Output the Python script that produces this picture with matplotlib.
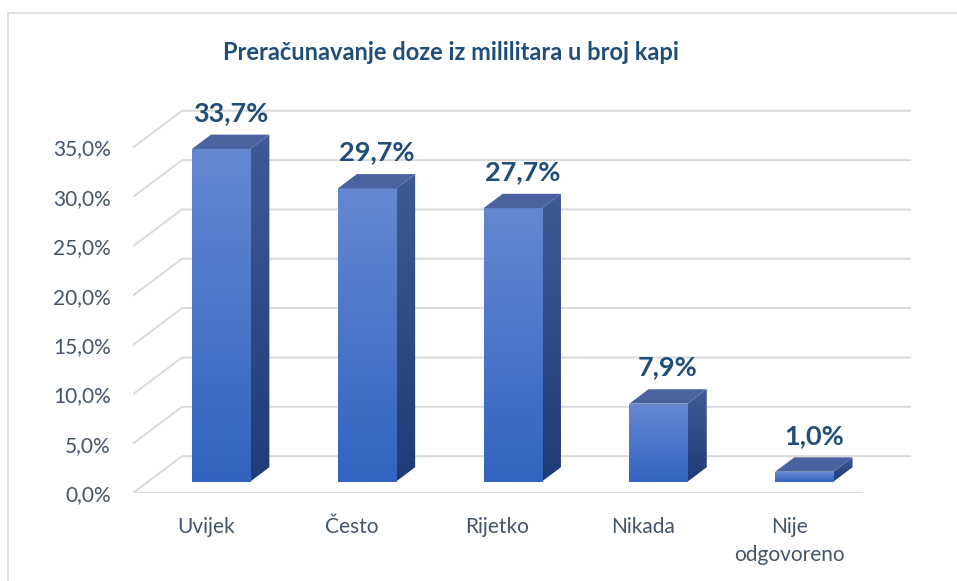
import numpy as np
import matplotlib.pyplot as plt
from matplotlib.patches import Polygon
from matplotlib.colors import LinearSegmentedColormap
from matplotlib.lines import Line2D

plt.rcParams['font.family'] = ['Lato', 'DejaVu Sans']

# podaci
categories = ['Uvijek', 'Često', 'Rijetko', 'Nikada', 'Nije\nodgovoreno']
values = [33.7, 29.7, 27.7, 7.9, 1.0]
yticks = [0, 5, 10, 15, 20, 25, 30, 35]
title = 'Preračunavanje doze iz mililitara u broj kapi'

W, H = 957, 581
fig = plt.figure(figsize=(W / 100, H / 100), dpi=100)

# kosa projekcija dubine (Excel 3D stupci)
DX = 0.336      # pomak po x za punu dubinu (jedinice kategorije)
DY = 3.73       # pomak po y za punu dubinu (%)
px_x = 145.8    # px po kategoriji
px_y = 9.87     # px po %
left_px, zero_px = 133, 493
ymax = 40

ax = fig.add_axes([left_px / W, (H - zero_px) / H,
                   (5 + DX) * px_x / W, ymax * px_y / H])
ax.set_xlim(-0.5, 4.5 + DX)
ax.set_ylim(0, ymax)
for s in ax.spines.values():
    s.set_visible(False)

grid_c = '#D9D9D9'
for v in yticks:
    ax.plot([-0.5, -0.5 + DX, 4.5 + DX], [v, v + DY, v + DY],
            color=grid_c, lw=1.4, zorder=1, solid_capstyle='butt')
ax.plot([-0.5, 4.5], [0, 0], color=grid_c, lw=1.4, zorder=1)

ax.set_yticks(yticks)
ax.set_yticklabels([f'{v:.1f}'.replace('.', ',') + '%' for v in yticks])
ax.set_xticks(range(len(categories)))
ax.set_xticklabels(categories, linespacing=1.5)
ax.tick_params(axis='y', length=0, pad=16, labelsize=15, labelcolor='#44546A')
ax.tick_params(axis='x', length=0, pad=17, labelsize=15, labelcolor='#44546A')

front_cm = LinearSegmentedColormap.from_list('front', ['#3263C0', '#6588D1'])
side_cm = LinearSegmentedColormap.from_list('side', ['#1E3C77', '#3F5B97'])
grad = np.linspace(0, 1, 256).reshape(-1, 1)

w = 0.40
dF, dB = 0.31, 0.70
ddx, ddy = (dB - dF) * DX, (dB - dF) * DY
for i, v in enumerate(values):
    xl = i - w / 2 + dF * DX
    xr = i + w / 2 + dF * DX
    yb = dF * DY
    yt = v + dF * DY
    # prednja strana
    ax.imshow(grad, cmap=front_cm, origin='lower', aspect='auto',
              extent=(xl, xr, yb, yt), zorder=3, interpolation='bilinear')
    # bočna strana
    side = Polygon([(xr, yb), (xr + ddx, yb + ddy), (xr + ddx, yt + ddy), (xr, yt)],
                   closed=True, facecolor='none', edgecolor='none')
    ax.add_patch(side)
    im = ax.imshow(grad, cmap=side_cm, origin='lower', aspect='auto',
                   extent=(xr, xr + ddx, yb, yt + ddy), zorder=2.9,
                   interpolation='bilinear')
    im.set_clip_path(side)
    # gornja strana
    ax.add_patch(Polygon([(xl, yt), (xr, yt), (xr + ddx, yt + ddy), (xl + ddx, yt + ddy)],
                         closed=True, facecolor='#4A63A0', edgecolor='none', zorder=3))
    ax.text((xl + xr) / 2 + ddx / 2, yt + ddy + 2.2,
            f'{v:.1f}'.replace('.', ',') + '%', ha='center', va='center',
            fontsize=19.5, fontweight='bold', color='#1F4E79', zorder=4)

ax.set_xlim(-0.5, 4.5 + DX)
ax.set_ylim(0, ymax)

fig.text(451 / W, 1 - 53 / H, title, ha='center', va='center',
         fontsize=17, fontweight='bold', color='#1F4E79')

# okvir grafikona
border_c = '#D9DDE3'
fig.add_artist(Line2D([8 / W, 1], [1 - 13 / H, 1 - 13 / H], color=border_c, lw=1.3))
fig.add_artist(Line2D([8 / W, 8 / W], [0, 1 - 13 / H], color=border_c, lw=1.3))

fig.savefig('out.png', dpi=100)
